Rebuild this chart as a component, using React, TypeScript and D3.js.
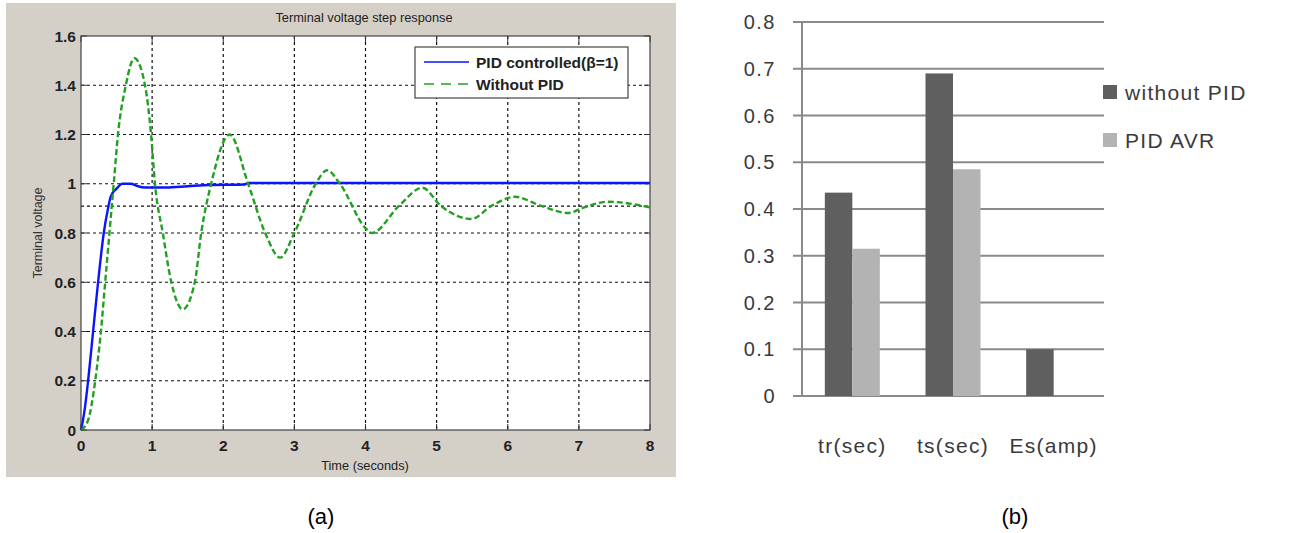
import React from "react";
import * as d3 from "d3";

// (a) step response
const pidT = [0, 0.05, 0.1, 0.17, 0.24, 0.32, 0.38, 0.42, 0.5, 0.58, 0.7, 0.8, 0.9, 1.2, 1.5, 1.8, 2.3, 2.35, 8];
const pidV = [0, 0.08, 0.2, 0.4, 0.6, 0.8, 0.9, 0.95, 0.98, 1.0, 1.0, 0.99, 0.985, 0.985, 0.99, 0.995, 0.997, 1.003, 1.003];

const noPidT = [0, 0.1, 0.2, 0.28, 0.34, 0.4, 0.46, 0.52, 0.63, 0.75, 0.9, 0.985, 1.04, 1.15, 1.27, 1.43, 1.6, 1.69, 1.83, 2.09, 2.35, 2.59, 2.8, 3.0, 3.3, 3.46, 3.64, 4.0, 4.09, 4.47, 4.8, 5.06, 5.49, 5.77, 6.1, 6.47, 6.85, 7.04, 7.41, 8];
const noPidV = [0, 0.04, 0.2, 0.4, 0.6, 0.8, 1.0, 1.2, 1.4, 1.51, 1.4, 1.2, 1.0, 0.8, 0.6, 0.49, 0.6, 0.8, 1.0, 1.2, 1.0, 0.8, 0.7, 0.8, 1.0, 1.055, 1.0, 0.82, 0.8, 0.91, 0.984, 0.91, 0.857, 0.91, 0.947, 0.91, 0.881, 0.9, 0.927, 0.904];

const xTicks = [0, 1, 2, 3, 4, 5, 6, 7, 8];
const yTicks = [0, 0.2, 0.4, 0.6, 0.8, 1, 1.2, 1.4, 1.6];
const steadyLine = 0.909;

// (b) bar chart
const categories = ["tr(sec)", "ts(sec)", "Es(amp)"];
const seriesNames = ["without PID", "PID AVR"];
const withoutPid = [0.435, 0.69, 0.1];
const pidAvr = [0.315, 0.485, 0];
const barTicks = [0, 0.1, 0.2, 0.3, 0.4, 0.5, 0.6, 0.7, 0.8];

const LEFT_FONT = "'Liberation Sans', Arial, sans-serif";

function StepChart() {
  const x = d3.scaleLinear().domain([0, 8]).range([81, 650]);
  const y = d3.scaleLinear().domain([0, 1.6]).range([430, 36]);
  const line = d3
    .line<[number, number]>()
    .x((d) => x(d[0]))
    .y((d) => y(d[1]))
    .curve(d3.curveMonotoneX);
  const pidPath = line(pidT.map((t, i) => [t, pidV[i]]));
  const noPidPath = line(noPidT.map((t, i) => [t, noPidV[i]]));

  return (
    <g fontFamily={LEFT_FONT}>
      <rect x={6} y={3} width={670} height={474} fill="#d4d0c8" />
      <rect x={81} y={36} width={569} height={394} fill="#fff" />
      <text x={364} y={22} textAnchor="middle" fontSize={12.8} fill="#222">
        Terminal voltage step response
      </text>

      {/* grid */}
      {xTicks.slice(1, -1).map((t) => (
        <line key={"gx" + t} x1={x(t)} x2={x(t)} y1={36} y2={430} stroke="#111" strokeWidth={1.2} strokeDasharray="3,3" />
      ))}
      {yTicks.slice(1, -1).concat([steadyLine]).map((v) => (
        <line key={"gy" + v} x1={81} x2={650} y1={y(v)} y2={y(v)} stroke="#111" strokeWidth={1.2} strokeDasharray="3,3" />
      ))}

      {/* ticks */}
      {xTicks.map((t) => (
        <g key={"tx" + t}>
          <line x1={x(t)} x2={x(t)} y1={430} y2={424} stroke="#333" />
          <line x1={x(t)} x2={x(t)} y1={36} y2={42} stroke="#333" />
          <text x={x(t)} y={451} textAnchor="middle" fontSize={15.5} fontWeight="bold" fill="#222">
            {t}
          </text>
        </g>
      ))}
      {yTicks.map((v) => (
        <g key={"ty" + v}>
          <line x1={81} x2={87} y1={y(v)} y2={y(v)} stroke="#333" />
          <line x1={650} x2={644} y1={y(v)} y2={y(v)} stroke="#333" />
          <text x={76} y={y(v) + 5.5} textAnchor="end" fontSize={15.5} fontWeight="bold" fill="#222">
            {v}
          </text>
        </g>
      ))}

      <path d={pidPath ?? ""} fill="none" stroke="#0a14ff" strokeWidth={2.4} />
      <path d={noPidPath ?? ""} fill="none" stroke="#22a022" strokeWidth={2.4} strokeDasharray="6,3" />

      <rect x={81} y={36} width={569} height={394} fill="none" stroke="#444" strokeWidth={1.2} />

      <text x={365} y={470} textAnchor="middle" fontSize={12.8} fill="#222">
        Time (seconds)
      </text>
      <text transform="translate(42,233) rotate(-90)" textAnchor="middle" fontSize={12.5} fill="#333">
        Terminal voltage
      </text>

      {/* legend */}
      <rect x={415} y={47} width={213} height={51} fill="#fff" stroke="#444" strokeWidth={1.2} />
      <line x1={424} x2={469} y1={62} y2={62} stroke="#0a14ff" strokeWidth={1.5} />
      <line x1={424} x2={469} y1={84} y2={84} stroke="#22a022" strokeWidth={1.5} strokeDasharray="10,7" />
      <text x={476} y={67.5} fontSize={15.5} fontWeight="bold" fill="#222">
        PID controlled(β=1)
      </text>
      <text x={476} y={89.5} fontSize={15.5} fontWeight="bold" fill="#222">
        Without PID
      </text>
    </g>
  );
}

function BarChart() {
  const x0 = d3.scaleBand().domain(categories).range([802, 1104]);
  const x1 = d3.scaleBand().domain(seriesNames).range([0, 55]);
  const y = d3.scaleLinear().domain([0, 0.8]).range([396, 22]);
  const colors = ["#5f5f5f", "#b3b3b3"];
  const series = [withoutPid, pidAvr];
  const font = "'Liberation Sans', Arial, sans-serif";

  return (
    <g fontFamily={font} fill="#3a3a3a">
      {barTicks.map((v) => (
        <g key={"b" + v}>
          <line x1={793} x2={1104} y1={y(v)} y2={y(v)} stroke="#8a8a8a" strokeWidth={2} />
          <text x={776} y={y(v) + 7} textAnchor="end" fontSize={20} letterSpacing={1.5}>
            {v}
          </text>
        </g>
      ))}
      <line x1={802} x2={802} y1={y(0.8)} y2={y(0)} stroke="#8a8a8a" strokeWidth={2} />
      {categories.map((c, ci) => {
        const cx = (x0(c) ?? 0) + x0.bandwidth() / 2;
        return (
          <g key={c}>
            {series.map((s, si) =>
              s[ci] > 0 ? (
                <rect
                  key={si}
                  x={cx - 27.5 + (x1(seriesNames[si]) ?? 0)}
                  y={y(s[ci])}
                  width={x1.bandwidth()}
                  height={y(0) - y(s[ci])}
                  fill={colors[si]}
                />
              ) : null
            )}
            <text x={cx} y={453} textAnchor="middle" fontSize={21} letterSpacing={1.3}>
              {c}
            </text>
          </g>
        );
      })}
      {seriesNames.map((n, i) => (
        <g key={n}>
          <rect x={1103} y={85 + i * 48} width={14} height={14} fill={colors[i]} />
          <text x={1125} y={100 + i * 48} fontSize={21} letterSpacing={1.3}>
            {n}
          </text>
        </g>
      ))}
    </g>
  );
}

export default function App() {
  return (
    <div style={{ position: "fixed", left: 0, top: 0 }}>
      <svg width={1289} height={533} style={{ display: "block", background: "#fff" }}>
        <StepChart />
        <BarChart />
        <text x={321} y={524} textAnchor="middle" fontSize={22} fontFamily={LEFT_FONT} fill="#000">
          (a)
        </text>
        <text x={1015} y={524} textAnchor="middle" fontSize={22} fontFamily={LEFT_FONT} fill="#000">
          (b)
        </text>
      </svg>
    </div>
  );
}
